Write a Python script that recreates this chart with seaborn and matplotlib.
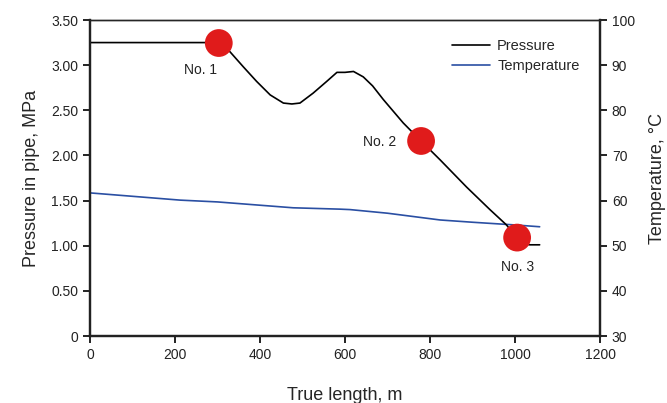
import matplotlib
matplotlib.use("Agg")
import matplotlib.pyplot as plt
import seaborn as sns
import pandas as pd
from matplotlib.ticker import FuncFormatter

# Pressure profile along the pipe (m, MPa)
length_p = [0, 200, 290, 303, 329, 361, 392, 424, 455, 475, 494, 525, 557,
            581, 600, 620, 643, 665, 690, 737, 779, 824, 886, 941, 980,
            1004, 1020, 1035, 1058]
pressure = [3.25, 3.25, 3.25, 3.245, 3.15, 2.98, 2.82, 2.67, 2.58, 2.57,
            2.58, 2.69, 2.82, 2.92, 2.92, 2.93, 2.87, 2.77, 2.62, 2.36, 2.16,
            1.95, 1.65, 1.40, 1.23, 1.09, 1.02, 1.01, 1.01]

# Temperature profile along the pipe (m, °C)
length_t = [0, 212, 300, 478, 588, 612, 700, 824, 900, 1000, 1058]
temperature = [61.7, 60.1, 59.7, 58.4, 58.1, 58.0, 57.2, 55.7, 55.2, 54.6, 54.2]

# Sampling points
point_names = ["No. 1", "No. 2", "No. 3"]
point_length = [303, 779, 1005]
point_pressure = [3.245, 2.16, 1.09]

sns.set_style("ticks")
plt.rcParams["font.family"] = ["Liberation Sans", "DejaVu Sans"]

df_p = pd.DataFrame({"length": length_p, "pressure": pressure})
df_t = pd.DataFrame({"length": length_t, "temperature": temperature})
df_pts = pd.DataFrame({"length": point_length, "pressure": point_pressure})

fig = plt.figure(figsize=(6.67, 4.03), dpi=100)
ax = fig.add_axes([90 / 667, 1 - 336 / 403, 510 / 667, 316 / 403])
ax2 = ax.twinx()

sns.lineplot(data=df_p, x="length", y="pressure", ax=ax, color="black",
             lw=1.2, label="Pressure", legend=False, sort=False)
sns.lineplot(data=df_t, x="length", y="temperature", ax=ax2, color="#2a4fa3",
             lw=1.2, label="Temperature", legend=False, sort=False)
# markers drawn above both lines
ax.set_zorder(ax2.get_zorder() + 1)
ax.patch.set_visible(False)
sns.scatterplot(data=df_pts, x="length", y="pressure", ax=ax,
                s=400, color="#e01b1b", edgecolor="none", zorder=5, legend=False)

# Point labels
label_pos = [(259, 2.95), (682, 2.15), (1005, 0.76)]
for name, (lx, ly) in zip(point_names, label_pos):
    ax.text(lx, ly, name, ha="center", va="center", fontsize=10, color="#222222")

ax.set_xlim(0, 1200)
ax.set_ylim(0, 3.5)
ax2.set_ylim(30, 100)
ax.set_xticks(range(0, 1201, 200))
ax.set_yticks([0, 0.5, 1.0, 1.5, 2.0, 2.5, 3.0, 3.5])
ax2.set_yticks(range(30, 101, 10))
ax.yaxis.set_major_formatter(FuncFormatter(lambda v, p: "0" if v == 0 else f"{v:.2f}"))

ax.set_xlabel("True length, m", fontsize=13, labelpad=18)
ax.set_ylabel("Pressure in pipe, MPa", fontsize=13, labelpad=8)
ax2.set_ylabel("Temperature, °C", fontsize=13, labelpad=10)

for a in (ax, ax2):
    a.tick_params(direction="out", length=5, width=1.4, labelsize=10,
                  colors="#222222")
    for side in ("left", "bottom", "right"):
        a.spines[side].set_linewidth(1.6)
        a.spines[side].set_color("#222222")
    a.spines["top"].set_linewidth(1.0)
    a.spines["top"].set_visible(True)
    a.spines["right"].set_visible(True)

h1, l1 = ax.get_legend_handles_labels()
h2, l2 = ax2.get_legend_handles_labels()
ax.legend(h1 + h2, l1 + l2, loc="upper left", bbox_to_anchor=(0.684, 0.98),
          frameon=False, fontsize=10.5, handlelength=2.6, handletextpad=0.5,
          labelspacing=0.38)

fig.savefig("out.png", dpi=100)
